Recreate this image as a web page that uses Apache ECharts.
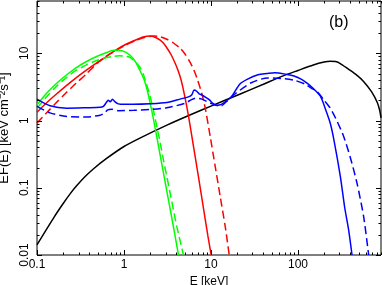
<!DOCTYPE html>
<html><head><meta charset="utf-8">
<script src="https://cdn.jsdelivr.net/npm/echarts@6/dist/echarts.min.js"></script>
<style>html,body{margin:0;padding:0;background:#fff}#c{width:382px;height:285px}</style>
</head><body><div id="c"></div>
<script>
// ---- data (E in keV, EF(E) in keV cm^-2 s^-1) ----
const blackE = [0.1,0.158,0.2,0.24,0.282,0.355,0.447,0.631,1,1.585,3.16,5.9,10,21.7,40,64,100,150,200,235,270,300,380,470,564,700,818,870,900];
const blackF = [0.0142,0.037,0.0583,0.0812,0.105,0.1454,0.1917,0.273,0.411,0.562,0.862,1.229,1.64,2.48,3.46,4.5,5.56,6.7,7.4,7.6,7.55,7.16,5.82,4.79,3.85,2.69,1.84,1.41,1.1];

const redSolidE = [0.1,0.129,0.166,0.216,0.281,0.366,0.477,0.622,0.811,1.057,1.342,1.659,1.997,2.404,2.818,3.133,3.483,3.873,4.195,4.541,4.956,5.51,6.291,7.18,8.197,9.211,10.05];
const redSolidF = [1.325,1.835,2.456,3.287,4.324,5.592,7.108,8.885,11.29,13.64,15.65,17.46,18.07,16.75,14.36,11.89,9.515,7.108,5.497,3.969,2.414,1.175,0.4128,0.1451,0.04925,0.01919,0.01];

const redDashE = [0.1,0.129,0.166,0.216,0.281,0.366,0.477,0.622,0.811,1.057,1.378,1.749,2.179,2.603,3.108,3.673,4.422,5.048,5.762,6.408,7.031,7.856,8.577,9.79,11.18,12.76,14.57,16.2];
const redDashF = [0.915,1.302,1.835,2.585,3.581,4.875,6.869,9.04,11.1,13.32,15.65,17.34,18.13,17.64,16.19,14.36,11.89,9.68,7.356,5.497,3.969,2.498,1.546,0.5817,0.2079,0.07433,0.02657,0.01];

const greenSolidE = [0.1,0.129,0.166,0.216,0.281,0.366,0.477,0.622,0.769,0.951,1.175,1.378,1.532,1.703,1.845,1.997,2.179,2.489,2.841,3.243,3.703,4.227];
const greenSolidF = [1.713,2.541,3.521,4.711,6.093,7.483,8.885,10.19,11.1,10.91,9.35,7.233,5.497,4.037,2.866,1.835,1.06,0.42,0.1664,0.0659,0.0261,0.01];

const greenDashE = [0.1,0.129,0.166,0.216,0.281,0.366,0.477,0.59,0.743,0.885,1.003,1.154,1.307,1.504,1.659,1.796,1.894,1.997,2.162,2.385,2.603,2.841,3.108,3.392,3.703,4.051,4.422,4.826];
const greenDashF = [1.53,2.254,3.209,4.324,5.554,6.683,7.747,8.44,8.98,9.19,9.1,8.8,7.747,6.37,4.96,3.606,2.915,2.278,1.494,0.814,0.4735,0.26,0.1466,0.0829,0.0468,0.0264,0.01617,0.01];

const blueSolidE = [0.1,0.141,0.22,0.373,0.53,0.58,0.62,0.66,0.7,0.735,0.79,0.86,1.0,1.27,2.0,3.11,4.5,5.4,6.0,6.4,6.8,7.3,7.85,8.8,9.6,10.5,11.5,12.5,13.9,17.1,21.5,26,34.7,44,54,75,90,110,127,150,181,210,235,260,307,345,382,418];
const blueSolidF = [2.08,1.66,1.53,1.55,1.57,1.62,1.82,2.0,1.9,2.08,1.9,1.77,1.74,1.74,1.77,1.85,2.1,2.23,2.4,2.85,2.75,2.5,2.4,2.2,2.03,1.8,1.69,1.7,1.82,2.25,3.5,4.1,4.8,5.0,5.15,4.85,4.6,4.1,3.6,3.0,2.3,1.4,0.91,0.5,0.147,0.05,0.0236,0.01];

const blueDashE = [0.1,0.141,0.22,0.37,0.53,0.6,0.65,0.73,0.86,1.3,2.0,3.1,5.0,5.9,6.6,7.85,9.8,12.2,13.1,15,18.2,29,45,70,89,120,142,165,200,235,280,335,400,477,569,649];
const blueDashF = [1.62,1.3,1.15,1.13,1.2,1.3,1.44,1.47,1.4,1.42,1.46,1.55,1.8,2.03,2.15,2.08,1.82,1.66,1.66,1.9,2.4,3.65,4.3,4.2,4.0,3.5,3.04,2.71,2.0,1.53,0.99,0.58,0.28,0.117,0.037,0.01];

// ---- axis ticks ----
const xMajorTicks = [0.1,1,10,100];
const xMinorTicks = [0.2,0.3,0.4,0.5,0.6,0.7,0.8,0.9,2,3,4,5,6,7,8,9,20,30,40,50,60,70,80,90,200,300,400,500,600,700,800,900];
const yMajorTicks = [0.01,0.1,1,10];
const yMinorTicks = [0.02,0.03,0.04,0.05,0.06,0.07,0.08,0.09,0.2,0.3,0.4,0.5,0.6,0.7,0.8,0.9,2,3,4,5,6,7,8,9,20,30,40,50,60];

const X_MIN = 0.1, X_MAX = 900, Y_MIN = 0.01, Y_MAX = 60;

function pairs(a, b) { return a.map((v, i) => [v, b[i]]); }

const FONT = "'Liberation Sans', Arial, Helvetica, sans-serif";

function lineSeries(E, F, color, dashed) {
  return {
    type: 'line', data: pairs(E, F), showSymbol: false, smooth: 0.25,
    clip: true, animation: false,
    lineStyle: { color: color, width: 1.5, type: dashed ? [8, 4] : 'solid' }
  };
}

const xTickData = xMajorTicks.map(v => [v, 1, 1]).concat(xMinorTicks.map(v => [v, 1, 0]));
const yTickData = yMajorTicks.map(v => [1, v, 1]).concat(yMinorTicks.map(v => [1, v, 0]));

function tickRenderer(isX) {
  return function (params, api) {
    const cs = params.coordSys;
    const major = api.value(2) === 1;
    const len = major ? 5 : 2.5;
    const style = { stroke: '#000', lineWidth: 1 };
    if (isX) {
      const px = Math.round(api.coord([api.value(0), api.value(1)])[0]) + 0.5;
      const bot = cs.y + cs.height, top = cs.y;
      return { type: 'group', children: [
        { type: 'line', shape: { x1: px, y1: bot, x2: px, y2: bot - len }, style: style },
        { type: 'line', shape: { x1: px, y1: top, x2: px, y2: top + len }, style: style }
      ]};
    } else {
      const py = Math.round(api.coord([api.value(0), api.value(1)])[1]) + 0.5;
      const l = cs.x, r = cs.x + cs.width;
      return { type: 'group', children: [
        { type: 'line', shape: { x1: l, y1: py, x2: l + len, y2: py }, style: style },
        { type: 'line', shape: { x1: r, y1: py, x2: r - len, y2: py }, style: style }
      ]};
    }
  };
}

const chart = echarts.init(document.getElementById('c'), null, { renderer: 'canvas' });
chart.setOption({
  animation: false,
  backgroundColor: '#fff',
  grid: { left: 37, right: 1, top: 1, bottom: 30, containLabel: false, outerBoundsMode: 'none',
          show: true, borderColor: '#000', borderWidth: 1, backgroundColor: 'transparent' },
  xAxis: {
    type: 'log', logBase: 10, min: X_MIN, max: X_MAX,
    name: 'E [keV]', nameLocation: 'middle', nameGap: 19,
    nameTextStyle: { color: '#000', fontSize: 12, fontFamily: FONT },
    axisLine: { show: false }, axisTick: { show: false }, splitLine: { show: false }, minorTick: { show: false },
    axisLabel: { color: '#000', fontSize: 12, fontFamily: FONT, margin: 4, showMaxLabel: false,
      formatter: v => String(+(+v).toPrecision(3)) }
  },
  yAxis: {
    type: 'log', logBase: 10, min: Y_MIN, max: Y_MAX,
    name: 'EF(E) [keV cm\u207B\u00B2s\u207B\u00B9]', nameLocation: 'middle', nameGap: 18,
    nameTextStyle: { color: '#000', fontSize: 13, fontFamily: FONT },
    axisLine: { show: false }, axisTick: { show: false }, splitLine: { show: false }, minorTick: { show: false },
    axisLabel: { color: '#000', fontSize: 12, fontFamily: FONT, margin: 6, rotate: 90, showMaxLabel: false,
      formatter: v => String(+(+v).toPrecision(3)) }
  },
  graphic: [{ type: 'text', left: 329, top: 15, style: { text: '(b)', fontSize: 16, fontFamily: FONT, fill: '#000' } }],
  series: [
    lineSeries(blackE, blackF, '#000000', false),
    lineSeries(redSolidE, redSolidF, '#ff0000', false),
    lineSeries(redDashE, redDashF, '#ff0000', true),
    lineSeries(greenSolidE, greenSolidF, '#00ff00', false),
    lineSeries(greenDashE, greenDashF, '#00ff00', true),
    lineSeries(blueSolidE, blueSolidF, '#0000ff', false),
    lineSeries(blueDashE, blueDashF, '#0000ff', true),
    { type: 'custom', data: xTickData, renderItem: tickRenderer(true), silent: true, z: 5, clip: false },
    { type: 'custom', data: yTickData, renderItem: tickRenderer(false), silent: true, z: 5, clip: false }
  ]
});
</script></body></html>
